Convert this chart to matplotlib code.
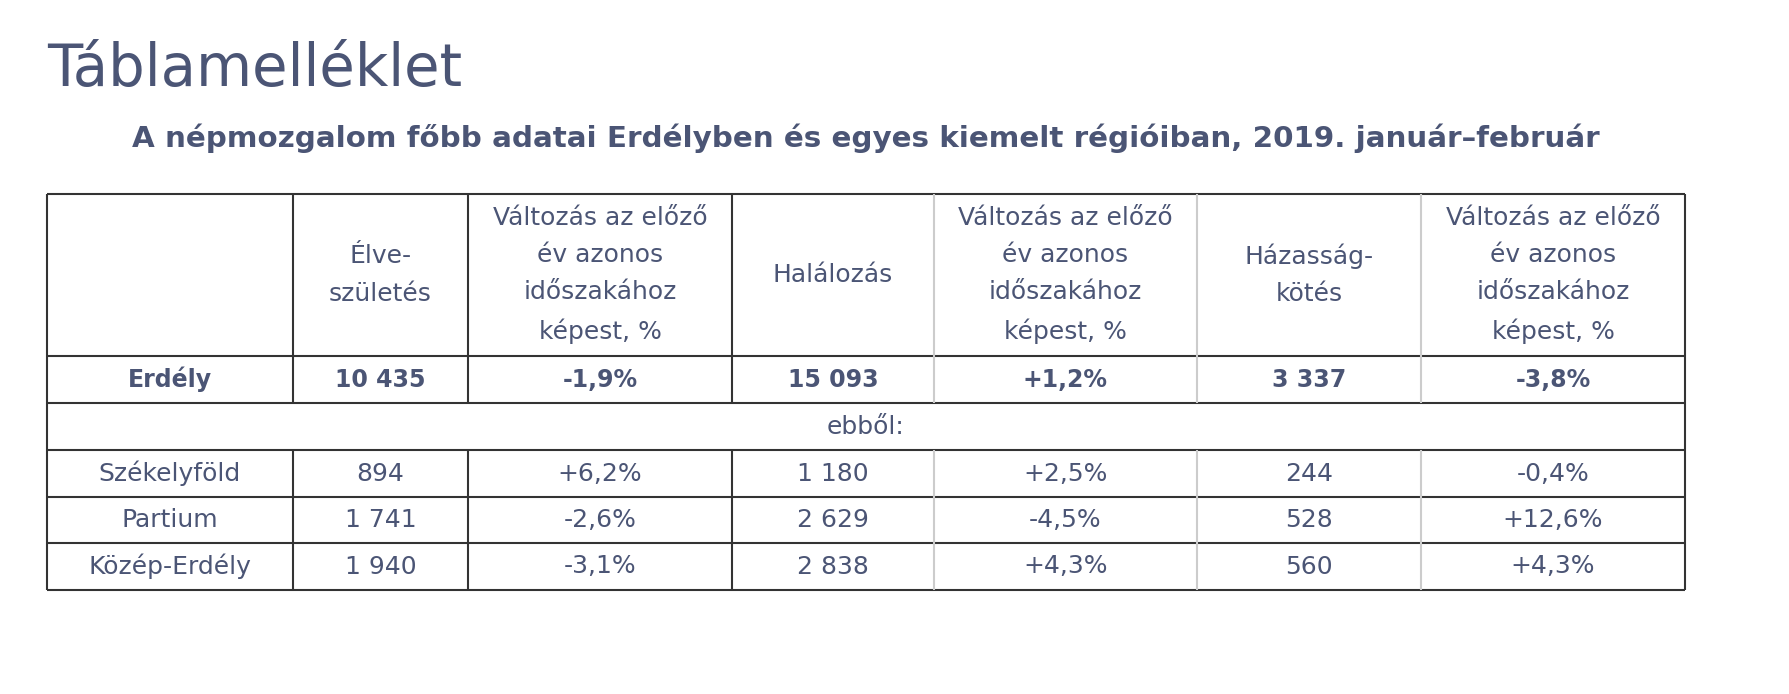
import matplotlib.pyplot as plt

plt.rcParams['font.family'] = ['DejaVu Sans']

# Table content
title = 'Táblamelléklet'
subtitle = 'A népmozgalom főbb adatai Erdélyben és egyes kiemelt régióiban, 2019. január–február'
headers = ['', 'Élve-\nszületés', 'Változás az előző\név azonos\nidőszakához\nképest, %',
           'Halálozás', 'Változás az előző\név azonos\nidőszakához\nképest, %',
           'Házasság-\nkötés', 'Változás az előző\név azonos\nidőszakához\nképest, %']
total_row = ['Erdély', '10 435', '-1,9%', '15 093', '+1,2%', '3 337', '-3,8%']
sub_label = 'ebből:'
regions = ['Székelyföld', 'Partium', 'Közép-Erdély']
births = ['894', '1 741', '1 940']
births_chg = ['+6,2%', '-2,6%', '-3,1%']
deaths = ['1 180', '2 629', '2 838']
deaths_chg = ['+2,5%', '-4,5%', '+4,3%']
marriages = ['244', '528', '560']
marriages_chg = ['-0,4%', '+12,6%', '+4,3%']

# Layout (pixels)
W, H = 1790, 694
col_x = [47, 293, 468, 732, 934, 1197, 1421, 1685]
row_y = [194, 356, 403, 450, 497, 543, 590]
TEXT = '#4b5575'
DARK = '#333333'
LIGHT = '#cccccc'
LW = 1.5
FS = 18

fig = plt.figure(figsize=(W / 100, H / 100), dpi=100, facecolor='white')
ax = fig.add_axes([0, 0, 1, 1])
ax.set_xlim(0, W)
ax.set_ylim(H, 0)
ax.set_axis_off()

ax.text(47, 86, title, fontsize=41.5, color=TEXT, ha='left', va='baseline')
ax.text((col_x[0] + col_x[-1]) / 2, 138, subtitle, fontsize=21.2, fontweight='bold',
        color=TEXT, ha='center', va='center')

# Horizontal lines
for y in row_y:
    ax.plot([col_x[0], col_x[-1]], [y, y], color=DARK, lw=LW, solid_capstyle='butt')

# Vertical lines (skip inside the "ebből" row)
for i, x in enumerate(col_x):
    edge = i == 0 or i == len(col_x) - 1
    color = DARK if (i <= 3 or edge) else LIGHT
    if edge:
        ax.plot([x, x], [row_y[0], row_y[-1]], color=color, lw=LW, solid_capstyle='butt')
    else:
        ax.plot([x, x], [row_y[0], row_y[2]], color=color, lw=LW, solid_capstyle='butt')
        ax.plot([x, x], [row_y[3], row_y[-1]], color=color, lw=LW, solid_capstyle='butt')

centers = [(col_x[i] + col_x[i + 1]) / 2 for i in range(len(col_x) - 1)]

# Header row
hy = (row_y[0] + row_y[1]) / 2
for cx, txt in zip(centers, headers):
    ax.text(cx, hy, txt, fontsize=FS, color=TEXT, ha='center', va='center',
            linespacing=1.7, multialignment='center')

# Total row
ty = (row_y[1] + row_y[2]) / 2
for cx, txt in zip(centers, total_row):
    ax.text(cx, ty, txt, fontsize=17, fontweight='bold', color=TEXT, ha='center', va='center')

# "ebből:" spanning row
ax.text((col_x[0] + col_x[-1]) / 2, (row_y[2] + row_y[3]) / 2, sub_label,
        fontsize=FS, color=TEXT, ha='center', va='center')

# Region rows
for r, name in enumerate(regions):
    ry = (row_y[3 + r] + row_y[4 + r]) / 2
    vals = [name, births[r], births_chg[r], deaths[r], deaths_chg[r], marriages[r], marriages_chg[r]]
    for cx, txt in zip(centers, vals):
        ax.text(cx, ry, txt, fontsize=FS, color=TEXT, ha='center', va='center')

fig.savefig('out.png', dpi=100, facecolor='white')
